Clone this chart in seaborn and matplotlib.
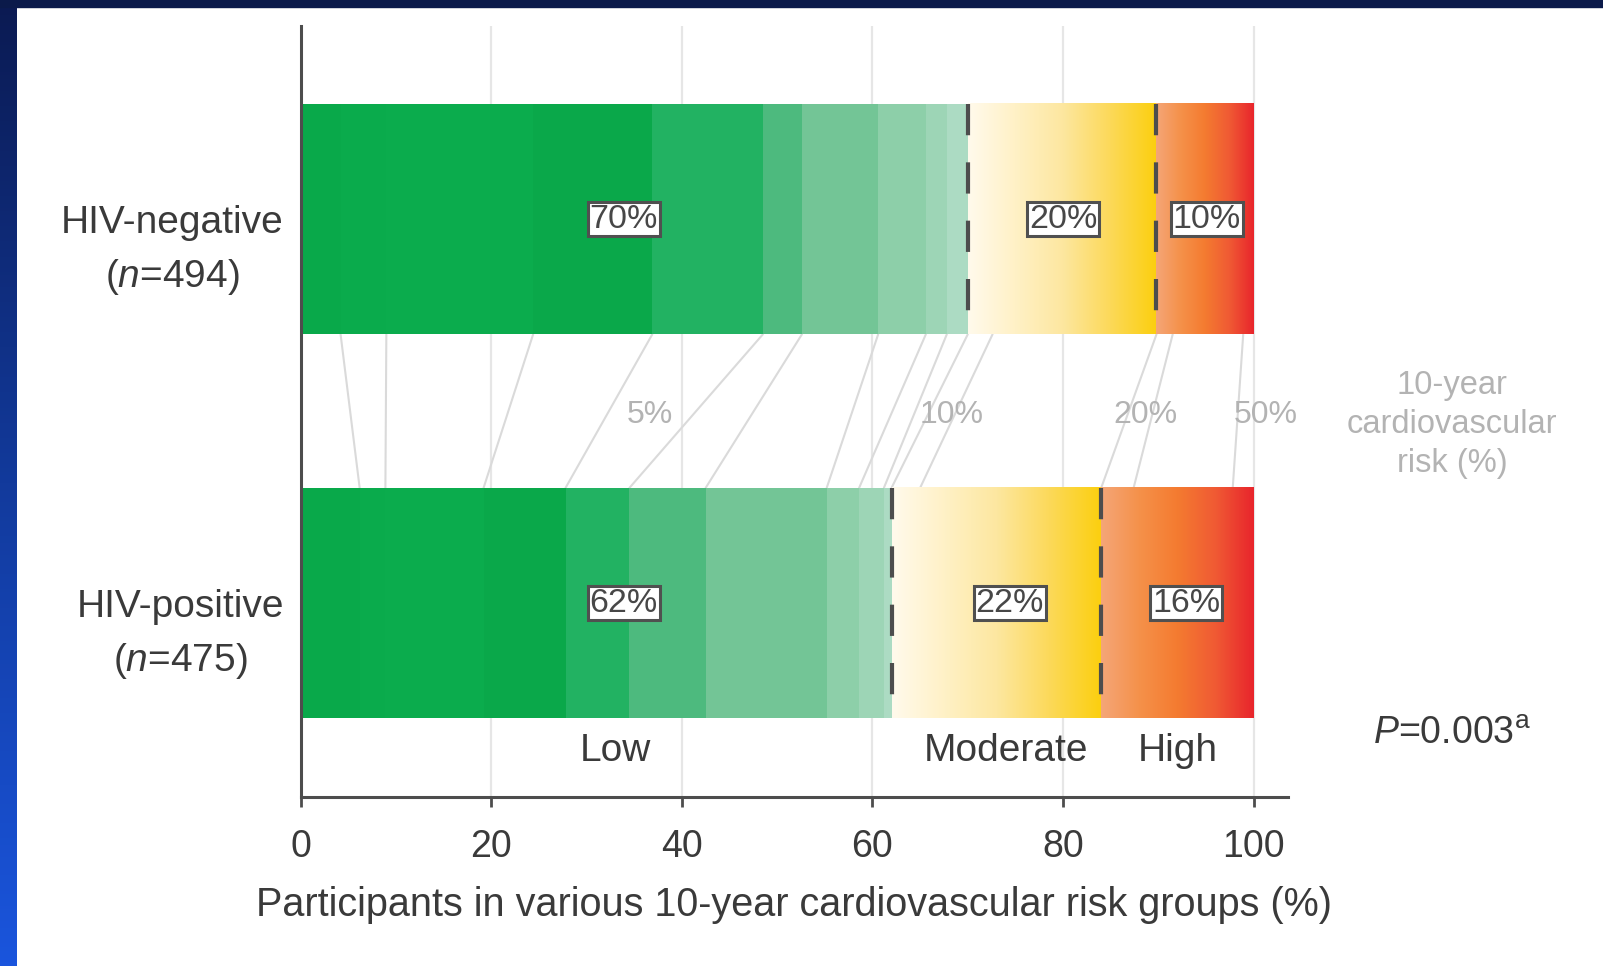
import numpy as np
import pandas as pd
import matplotlib
matplotlib.use("Agg")
import matplotlib.pyplot as plt
import seaborn as sns
from matplotlib.colors import LinearSegmentedColormap
from matplotlib.patches import Rectangle

# ---------------- data ----------------
groups = ["HIV-negative", "HIV-positive"]
group_n = [494, 475]
# upper edge of each 10-year risk bin
risk_thresholds = ["1%", "2%", "3%", "4%", "5%", "6%", "7%", "8%", "9%", "10%",
                   "12%", "20%", "30%", "50%", "100%"]
# cumulative % of participants at or below each threshold
cum_neg = [4.2, 9.0, 24.4, 36.9, 48.5, 52.6, 60.6, 65.6, 67.8, 70.0,
           72.6, 89.8, 91.5, 98.9, 100.0]
cum_pos = [6.2, 8.9, 19.2, 27.8, 34.5, 42.5, 55.2, 58.6, 61.2, 62.0,
           65.0, 84.0, 87.4, 97.8, 100.0]
risk_groups = ["Low", "Moderate", "High"]
group_pct_neg = [70, 20, 10]
group_pct_pos = [62, 22, 16]
labelled_thresholds = ["5%", "10%", "20%", "50%"]
xticks = [0, 20, 40, 60, 80, 100]
p_value = "0.003"

# ---------------- style / layout ----------------
sns.set_theme(style="white")
plt.rcParams["font.family"] = ["Liberation Sans", "DejaVu Sans"]
plt.rcParams["mathtext.fontset"] = "custom"
plt.rcParams["mathtext.rm"] = "Liberation Sans"
plt.rcParams["mathtext.it"] = "Liberation Sans:italic"

bin_colors = ["#09a94a", "#0aab4c", "#0bac4d", "#0aa84a", "#22b262", "#4dba7e",
              "#73c596", "#8dcfa9", "#9dd5b6", "#acdbc3",
              "#fff3cc", "#fcd116", "#f59a5a", "#f4753a", "#e8262c"]
mod_cmap = LinearSegmentedColormap.from_list(
    "mod", ["#fffaec", "#fff1c6", "#fde7a0", "#fcd95a", "#fbcf0e"])
high_cmap = LinearSegmentedColormap.from_list(
    "high", ["#f4a678", "#f5914a", "#f47b30", "#f05a34", "#e8252c"])
TXT = "#3a3a3a"
AX = "#4d4d4d"
GRID = "#e6e6e6"
LIGHT = "#b3b3b3"
BAR_W = 0.6
# text positions (x, in axis % units)
thr_label_x = [36.7, 68.3, 88.6, 101.3]
pct_label_x = [[33.9, 80.0, 95.1], [33.9, 74.4, 92.9]]
group_label_x = [33.0, 74.0, 92.0]

fig = plt.figure(figsize=(16.03, 9.66), dpi=100)
fig.patch.set_facecolor("white")
ax = fig.add_axes([0.1875, 0.175, 0.6160, 0.798])

# grid lines behind everything
for t in xticks:
    ax.axvline(t, color=GRID, lw=1.6, zorder=0.5)

# stacked bars: draw cumulative totals from the largest down
for j in range(len(risk_thresholds) - 1, -1, -1):
    d = pd.DataFrame({"group": groups, "cum": [cum_neg[j], cum_pos[j]]})
    sns.barplot(data=d, x="cum", y="group", orient="h", color=bin_colors[j],
                saturation=1, width=BAR_W, errorbar=None, linewidth=0,
                ax=ax, zorder=2)

i_low = risk_thresholds.index("10%")
i_mod = risk_thresholds.index("20%")
grad = np.linspace(0, 1, 256)[None, :]
half = BAR_W / 2
for i, cum in enumerate([cum_neg, cum_pos]):
    lo_end, mod_end, hi_end = cum[i_low], cum[i_mod], cum[-1]
    ax.imshow(grad, cmap=mod_cmap, extent=(lo_end, mod_end, i + half, i - half),
              aspect="auto", interpolation="bilinear", zorder=2.5)
    ax.imshow(grad, cmap=high_cmap, extent=(mod_end, hi_end, i + half, i - half),
              aspect="auto", interpolation="bilinear", zorder=2.5)
    for xb in (lo_end, mod_end):
        ax.plot([xb, xb], [i - half, i + half], color=AX, lw=3,
                ls=(0, (7.5, 6.5)), dash_capstyle="butt", zorder=3)

# connecting lines between equal risk thresholds
for a, b in zip(cum_neg[:-1], cum_pos[:-1]):
    ax.plot([a, b], [half, 1 - half], color="#dadada", lw=1.5, zorder=1)

# threshold labels in the gap
for lab, xl in zip(labelled_thresholds, thr_label_x):
    ax.text(xl, 0.51, lab, ha="center", va="center", fontsize=23,
            color=LIGHT, zorder=4, clip_on=False)

# percentage boxes
for i, pcts in enumerate([group_pct_neg, group_pct_pos]):
    for k, p in enumerate(pcts):
        ax.text(pct_label_x[i][k], i, f"{p}%", ha="center", va="center", fontsize=24.5,
                color="#474747", zorder=5,
                bbox=dict(boxstyle="square,pad=0.05", fc="white", ec="#505050", lw=2.2))

# risk group names below bottom bar
for lab, xl in zip(risk_groups, group_label_x):
    ax.text(xl, 1.385, lab, ha="center", va="center", fontsize=28, color=TXT, zorder=4)

# y labels
for i, (g, n) in enumerate(zip(groups, group_n)):
    ax.annotate(f"{g}\n($n$={n})", xy=(0, i), xycoords=("axes fraction", "data"),
                xytext=(-12, -23), textcoords="offset points", ha="right",
                va="center", multialignment="center", fontsize=28, color=TXT,
                linespacing=1.52)

# right-hand notes
ax.text(120.8, 0.535, "10-year\ncardiovascular\nrisk (%)", ha="center", va="center",
        fontsize=23.5, color=LIGHT, linespacing=1.32, clip_on=False)
ax.text(120.8, 1.34, f"$P$={p_value}$^{{\\mathrm{{a}}}}$", ha="center", va="center",
        fontsize=27, color=TXT, clip_on=False)

# axes styling
ax.set_xlim(0, 103.6)
ax.set_ylim(1.505, -0.503)
ax.set_yticks([])
ax.set_ylabel("")
ax.set_xticks(xticks)
ax.set_xticklabels([str(t) for t in xticks])
ax.tick_params(axis="x", direction="out", length=7, width=2, color=AX,
               labelsize=27, labelcolor=TXT, pad=16, bottom=True)
ax.set_xlabel("Participants in various 10-year cardiovascular risk groups (%)",
              fontsize=28.5, color=TXT, labelpad=15.5)
for s in ("top", "right"):
    ax.spines[s].set_visible(False)
for s in ("left", "bottom"):
    ax.spines[s].set_color(AX)
    ax.spines[s].set_linewidth(2.2)
ax.grid(False)

# slide frame: dark top band and blue gradient strip on the left
bg = fig.add_axes([0, 0, 0.0105, 1])
bg.imshow(np.linspace(0, 1, 256)[:, None],
          cmap=LinearSegmentedColormap.from_list("frame", ["#0b1a52", "#123a9c", "#1a55dd"]),
          aspect="auto", extent=(0, 1, 0, 1), origin="upper")
bg.axis("off")
fig.add_artist(Rectangle((0, 0.993), 1, 0.007, transform=fig.transFigure,
                         color="#0b1a4a", zorder=10))

fig.savefig("out.png", dpi=100, facecolor="white")
